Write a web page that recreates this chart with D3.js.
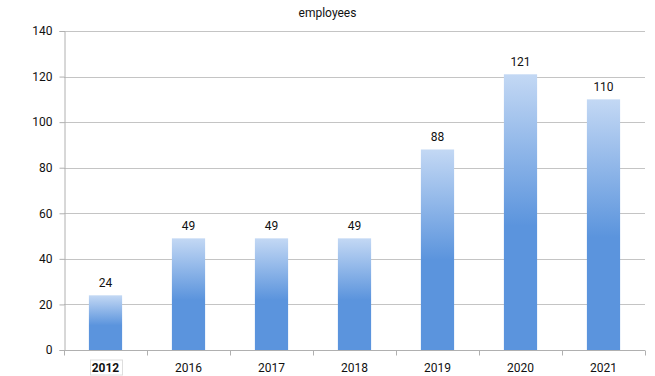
<!DOCTYPE html>
<html>
<head>
<meta charset="utf-8">
<script src="https://cdn.jsdelivr.net/npm/d3@7"></script>
<style>
  body { margin: 0; background: #fff; }
  text { font-family: Roboto, "Noto Sans", sans-serif; fill: #111; }
</style>
</head>
<body>
<div id="chart"></div>
<script>
var years = ["2012", "2016", "2017", "2018", "2019", "2020", "2021"];
var employees = [24, 49, 49, 49, 88, 121, 110];
var yTicks = [0, 20, 40, 60, 80, 100, 120, 140];

var W = 655, H = 376;
var margin = {top: 31, right: 10, bottom: 26, left: 64};
var width = W - margin.left - margin.right,
    height = H - margin.top - margin.bottom;

var svg = d3.select("#chart")
  .append("svg")
    .attr("width", W)
    .attr("height", H);

// gradient for the bars: light on top, solid blue from the middle down
var grad = svg.append("defs").append("linearGradient")
    .attr("id", "barGrad")
    .attr("x1", 0).attr("y1", 0).attr("x2", 0).attr("y2", 1);
grad.append("stop").attr("offset", "0%").attr("stop-color", "#c3d8f4");
grad.append("stop").attr("offset", "55%").attr("stop-color", "#5b94dd");
grad.append("stop").attr("offset", "100%").attr("stop-color", "#5b94dd");

var g = svg.append("g")
    .attr("transform", "translate(" + margin.left + "," + margin.top + ")");

var x = d3.scaleBand()
  .domain(years)
  .range([0, width]);

var y = d3.scaleLinear()
  .domain([0, 140])
  .range([height, 0]);

// gridlines
g.append("g")
  .selectAll("line")
  .data(yTicks)
  .enter()
  .append("line")
    .attr("x1", 0)
    .attr("x2", width)
    .attr("y1", function (d) { return Math.round(y(d)) + 0.5; })
    .attr("y2", function (d) { return Math.round(y(d)) + 0.5; })
    .attr("stroke", "#c4c4c4");

// y axis
var yAxis = g.append("g")
  .attr("transform", "translate(0.5,0)")
  .call(d3.axisLeft(y).tickValues(yTicks).tickSize(5).tickPadding(7));
yAxis.select(".domain").attr("stroke", "#b0b0b0");
yAxis.selectAll(".tick line").attr("stroke", "#b0b0b0");
yAxis.selectAll(".tick text").style("font-size", "12px").attr("fill", "#111");

// x axis: ticks on band boundaries
var xAxisG = g.append("g")
  .attr("transform", "translate(0," + (Math.round(height) + 0.5) + ")");
xAxisG.append("line")
  .attr("x1", 0).attr("x2", width)
  .attr("stroke", "#b0b0b0");
var bounds = years.map(function (d) { return x(d); }).concat([width]);
xAxisG.selectAll("line.tk")
  .data(bounds)
  .enter()
  .append("line")
    .attr("class", "tk")
    .attr("x1", function (d) { return Math.round(d) + 0.5; })
    .attr("x2", function (d) { return Math.round(d) + 0.5; })
    .attr("y1", 0).attr("y2", 5)
    .attr("stroke", "#b0b0b0");

// faint box round the first (selected) category label
xAxisG.append("rect")
  .attr("x", Math.round(x(years[0]) + x.bandwidth() / 2 - 16) + 0.5)
  .attr("y", 9.5)
  .attr("width", 32)
  .attr("height", 15)
  .attr("fill", "none")
  .attr("stroke", "#dedede");

xAxisG.selectAll("text")
  .data(years)
  .enter()
  .append("text")
    .attr("x", function (d) { return x(d) + x.bandwidth() / 2; })
    .attr("y", 21)
    .attr("text-anchor", "middle")
    .style("font-size", "12px")
    .style("font-weight", function (d, i) { return i === 0 ? "bold" : "normal"; })
    .text(function (d) { return d; });

// bars
var barW = x.bandwidth() * 0.4;
g.append("g")
  .selectAll("rect")
  .data(employees)
  .enter()
  .append("rect")
    .attr("x", function (d, i) { return x(years[i]) + (x.bandwidth() - barW) / 2; })
    .attr("y", function (d) { return y(d); })
    .attr("width", barW)
    .attr("height", function (d) { return height - y(d); })
    .attr("fill", "url(#barGrad)");

// value labels
g.append("g")
  .selectAll("text")
  .data(employees)
  .enter()
  .append("text")
    .attr("x", function (d, i) { return x(years[i]) + x.bandwidth() / 2; })
    .attr("y", function (d) { return y(d) - 8; })
    .attr("text-anchor", "middle")
    .style("font-size", "12px")
    .text(function (d) { return d; });

// title
svg.append("text")
  .attr("x", W / 2)
  .attr("y", 17)
  .attr("text-anchor", "middle")
  .style("font-size", "12px")
  .text("employees");
</script>
</body>
</html>
